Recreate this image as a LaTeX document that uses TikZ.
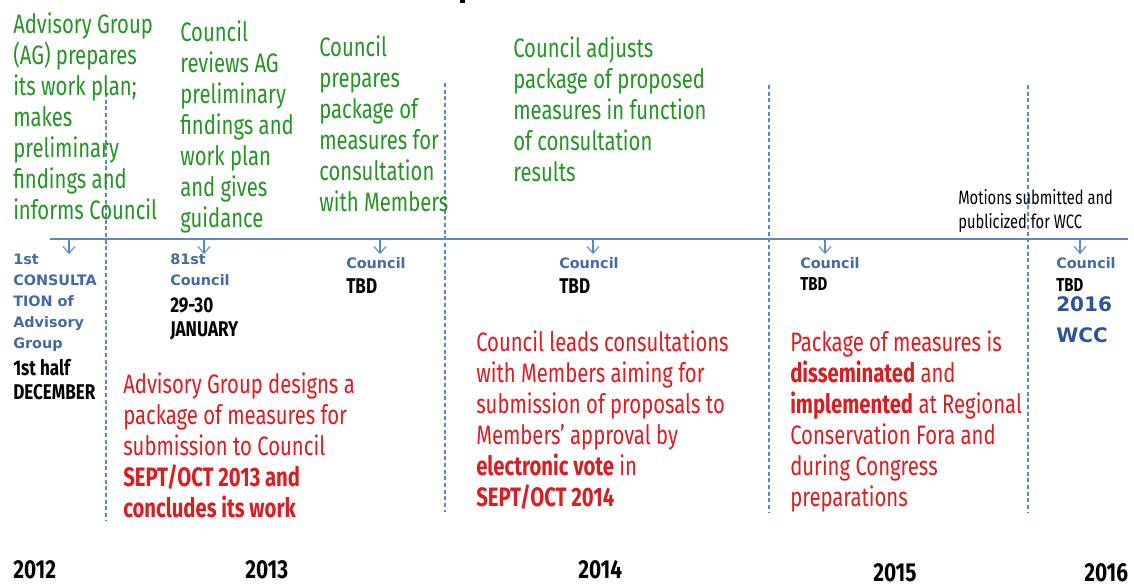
\documentclass[tikz,border=0pt]{standalone}
\usepackage{fontspec}
\usetikzlibrary{arrows.meta}
\setmainfont{Fira Sans}
\newfontfamily\cond[FakeStretch=0.76]{Fira Sans}
\newfontfamily\condy[FakeStretch=0.8]{Fira Sans}
\newfontfamily\vsans{DejaVu Sans}
\definecolor{agreen}{RGB}{40,145,40}
\definecolor{ared}{RGB}{215,30,35}
\definecolor{ablue}{RGB}{68,106,160}
\definecolor{dblue}{RGB}{47,84,150}
\definecolor{lblue}{RGB}{91,135,195}
\tikzset{
  txt/.style={inner sep=0pt, anchor=north west, align=left, execute at begin node=\strut},
  greentxt/.style={txt, text=agreen, font=\cond\fontsize{20}{23.25}\selectfont},
  redtxt/.style={txt, text=ared, font=\cond\fontsize{20}{23.25}\selectfont},
  bluetxt/.style={txt, text=ablue, font=\vsans\bfseries\fontsize{10.8}{15.75}\selectfont},
  blktxt/.style={txt, text=black, font=\condy\bfseries\fontsize{16}{18}\selectfont},
  smblk/.style={txt, text=black, font=\condy\bfseries\fontsize{14}{18}\selectfont},
  wcctxt/.style={txt, text=dblue, font=\vsans\bfseries\fontsize{15}{23.25}\selectfont},
  motxt/.style={txt, text=black, font=\cond\fontsize{14.5}{18}\selectfont},
  yeartxt/.style={inner sep=0pt, anchor=base west, text=black, font=\condy\bfseries\fontsize{19.5}{22}\selectfont},
  vdash/.style={draw=lblue, line width=0.8pt, dash pattern=on 3pt off 2pt},
  tline/.style={draw=lblue, line width=1.1pt},
  darr/.style={draw=lblue, line width=0.8pt, -{Straight Barb[length=5pt,width=9pt]}}
}
\begin{document}
\begin{tikzpicture}[x=0.75pt,y=-0.75pt]
\useasboundingbox (0,0) rectangle (1134,587);
% fragment of cut title
\fill[black] (460,0) rectangle (465,3);
% dashed separators
\draw[vdash] (106,93) -- (106,520);
\draw[vdash] (445,83) -- (445,512);
\draw[vdash] (769,85) -- (769,512);
\draw[vdash] (1028,85) -- (1028,512);
% timeline
\coordinate (ts) at (50,239);
\coordinate (te) at (1128,239);
\draw[tline] (ts) -- (te);
% arrows
\foreach \i/\x in {1/69,2/204,3/380,4/593,5/825,6/1080}{
  \coordinate (t\i) at (\x,240);
  \coordinate (a\i) at (\x,254);
  \draw[darr] (t\i) -- (a\i);
}
% green texts
\node[greentxt] (g1) at (13,12.3) {Advisory Group\\(AG) prepares\\its work plan;\\makes\\preliminary\\findings and\\informs Council};
\node[greentxt] (g2) at (180,20.3) {Council\\reviews AG\\preliminary\\findings and\\work plan\\and gives\\guidance};
\node[greentxt] (g3) at (319,35.3) {Council\\prepares\\package of\\measures for\\consultation\\with Members};
\node[greentxt] (g4) at (513,36.3) {Council adjusts\\package of proposed\\measures in function\\of consultation\\results};
\node[motxt] (mo) at (958,189.2) {Motions submitted and\\publicized for WCC};
% blue labels
\node[bluetxt] (b1) at (13,253.3) {1st\\CONSULTA\\TION of\\Advisory\\Group};
\node[blktxt] (k1) at (13,359.2) {1st half\\DECEMBER};
\node[bluetxt] (b2) at (170,253.3) {81st\\Council};
\node[blktxt] (k2) at (170,297.2) {29-30\\JANUARY};
\node[bluetxt] (b3) at (346,253.3) {Council};
\node[blktxt] (k3) at (346,276.2) {TBD};
\node[bluetxt] (b4) at (559,253.3) {Council};
\node[blktxt] (k4) at (559,276.2) {TBD};
\node[bluetxt] (b5) at (800,253.3) {Council};
\node[smblk] (k5) at (800,273.2) {TBD};
\node[bluetxt] (b6) at (1056,253.3) {Council};
\node[smblk] (k6) at (1056,274.2) {TBD};
\node[wcctxt] (w6) at (1056,296.3) {2016\\WCC};
% red texts
\node[redtxt] (r1) at (123,372.3) {Advisory Group designs a\\package of measures for\\submission to Council\\\textbf{SEPT/OCT 2013 and}\\\textbf{concludes its work}};
\node[redtxt] (r2) at (476,330.3) {Council leads consultations\\with Members aiming for\\submission of proposals to\\Members’ approval by\\\textbf{electronic vote} in\\\textbf{SEPT/OCT 2014}};
\node[redtxt] (r3) at (790,330.3) {Package of measures is\\\textbf{disseminated} and\\\textbf{implemented} at Regional\\Conservation Fora and\\during Congress\\preparations};
% years
\node[yeartxt] (y12) at (13,578) {2012};
\node[yeartxt] (y13) at (245,578) {2013};
\node[yeartxt] (y14) at (578,578) {2014};
\node[yeartxt] (y15) at (873,581) {2015};
\node[yeartxt] (y16) at (1084,581) {2016};
\end{tikzpicture}
\end{document}
